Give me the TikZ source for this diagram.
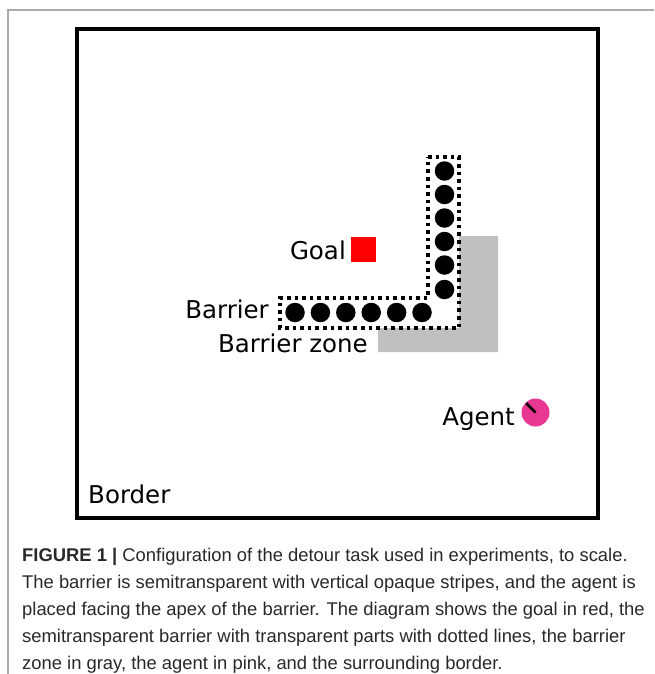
\documentclass[tikz,border=0pt]{standalone}
\usepackage{fontspec}
\usetikzlibrary{calc}
\setmainfont{DejaVu Sans}
\newfontfamily\capfont{Liberation Sans}
\definecolor{zonegray}{RGB}{192,192,192}
\definecolor{agentpink}{RGB}{233,56,145}
\definecolor{framegray}{RGB}{170,170,170}
\definecolor{captext}{RGB}{40,40,40}
\begin{document}
\begin{tikzpicture}[x=1pt,y=-1pt,
  lbl/.style={inner sep=0pt,font=\fontsize{24.5}{28}\selectfont},
  capline/.style={inner sep=0pt,anchor=base west,text=captext,font=\capfont\fontsize{18.4}{27}\selectfont},
  stripe/.style={circle,fill=black,inner sep=0pt,minimum size=19.5pt},
  dotline/.style={line width=3.6pt,dash pattern=on 3.6pt off 4pt},
  borderline/.style={line width=4pt}]
\useasboundingbox (0,0) rectangle (654,674);
% outer frame of figure
\coordinate (ftr) at (654,10);
\coordinate (ftl) at (8,10);
\coordinate (fbl) at (8,674);
\draw[framegray,line width=1.5pt] (ftr) -- (ftl) -- (fbl);
% border
\node[draw,borderline,inner sep=0pt,minimum width=521pt,minimum height=488pt,anchor=north west] (border) at (75,27.5) {};
% barrier zone
\fill[zonegray] (459,236) -- (498,236) -- (498,352) -- (378,352) -- (378,328) -- (459,328) -- cycle;
% barrier dotted outline
\draw[dotline] (428,157) -- (459,157) -- (459,328) -- (280,328) -- (280,298) -- (428,298) -- cycle;
% vertical stripes
\foreach \i/\y in {1/171,2/194.5,3/218,4/241.5,5/265,6/289.5}
  \node[stripe] (v\i) at (444.5,\y) {};
\foreach \i/\x in {1/295,2/320.4,3/345.8,4/371.2,5/396.6,6/422}
  \node[stripe] (h\i) at (\x,312.5) {};
% goal
\node[fill=red,inner sep=0pt,minimum size=24.5pt] (goal) at (363.5,249.5) {};
% agent
\node[circle,fill=agentpink,inner sep=0pt,minimum size=28pt] (agent) at (535.5,412.5) {};
\draw[line width=2.6pt] (agent.center) -- ($(agent.center)!0.93!(agent.135)$);
% labels
\node[lbl,anchor=base east] (goallbl) at (346,259) {Goal};
\node[lbl,anchor=base east] (barlbl) at (269,318) {Barrier};
\node[lbl,anchor=base east] (zonelbl) at (368,352) {Barrier zone};
\node[lbl,anchor=base east] (agentlbl) at (515,425) {Agent};
\node[lbl,anchor=base west] (borderlbl) at (88,503) {Border};
% caption
\node[capline] (cap1) at (22,561) {\textbf{FIGURE 1 |} Configuration of the detour task used in experiments, to scale.};
\node[capline] (cap2) at (22,588) {The barrier is semitransparent with vertical opaque stripes, and the agent is};
\node[capline] (cap3) at (22,615) {placed facing the apex of the barrier. The diagram shows the goal in red, the};
\node[capline] (cap4) at (22,642) {semitransparent barrier with transparent parts with dotted lines, the barrier};
\node[capline] (cap5) at (22,669) {zone in gray, the agent in pink, and the surrounding border.};
\end{tikzpicture}
\end{document}
